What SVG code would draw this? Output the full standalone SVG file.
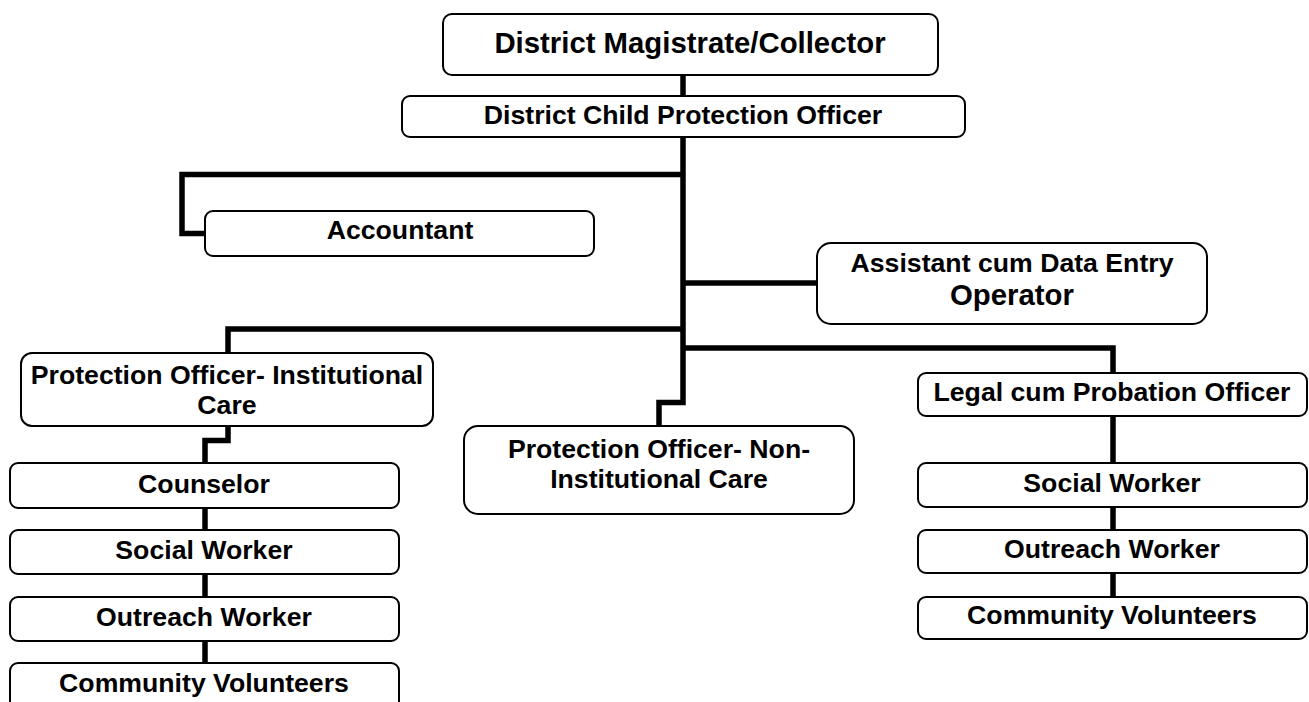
<svg xmlns="http://www.w3.org/2000/svg" width="1309" height="702" viewBox="0 0 1309 702">
<style>
.box{fill:#fff;stroke:#000;stroke-width:2}
.t{font-family:"Liberation Sans",Arial,sans-serif;font-weight:bold;font-size:26.67px;fill:#000;text-anchor:middle}
.big{font-size:29.33px}
.c{fill:none;stroke:#000;stroke-width:5.5;stroke-linejoin:miter;stroke-linecap:butt}
</style>
<rect width="1309" height="702" fill="#fff"/>
<g id="connectors">
<path class="c" d="M683,75 V96"/>
<path class="c" d="M683,137 V402.5 H659 V426"/>
<path class="c" d="M683,174.5 H182 V233.5 H205"/>
<path class="c" d="M683,283 H817"/>
<path class="c" d="M683,329 H228 V353"/>
<path class="c" d="M683,348 H1113 V373"/>
<path class="c" d="M228,426 V440.5 H205 V463"/>
<path class="c" d="M205,508 V530"/>
<path class="c" d="M205,574 V597"/>
<path class="c" d="M205,641 V663"/>
<path class="c" d="M1113,416 V463"/>
<path class="c" d="M1113,507 V530"/>
<path class="c" d="M1113,573 V597"/>
</g>
<g id="dm">
<rect class="box" x="443" y="14" width="495" height="61" rx="9"/>
<text class="t big" x="690" y="53">District Magistrate/Collector</text>
</g>
<g id="dcpo">
<rect class="box" x="402" y="96" width="563" height="41" rx="8"/>
<text class="t" x="683" y="124">District Child Protection Officer</text>
</g>
<g id="accountant">
<rect class="box" x="205" y="211" width="389" height="45" rx="8"/>
<text class="t" x="400" y="239">Accountant</text>
</g>
<g id="assistant">
<rect class="box" x="817" y="243" width="390" height="81" rx="14"/>
<text class="t" x="1012" y="272">Assistant cum Data Entry</text>
<text class="t big" x="1012" y="305">Operator</text>
</g>
<g id="po-ic">
<rect class="box" x="21" y="353" width="412" height="73" rx="11"/>
<text class="t" x="227" y="384">Protection Officer- Institutional</text>
<text class="t" x="227" y="414">Care</text>
</g>
<g id="po-nic">
<rect class="box" x="464" y="426" width="390" height="88" rx="14"/>
<text class="t" x="659" y="458">Protection Officer- Non-</text>
<text class="t" x="659" y="488">Institutional Care</text>
</g>
<g id="legal">
<rect class="box" x="918" y="373" width="389" height="43" rx="8"/>
<text class="t" x="1112" y="401">Legal cum Probation Officer</text>
</g>
<g id="counselor">
<rect class="box" x="10" y="463" width="389" height="45" rx="8"/>
<text class="t" x="204" y="493">Counselor</text>
</g>
<g id="social-worker-left">
<rect class="box" x="10" y="530" width="389" height="44" rx="8"/>
<text class="t" x="204" y="559">Social Worker</text>
</g>
<g id="outreach-left">
<rect class="box" x="10" y="597" width="389" height="44" rx="8"/>
<text class="t" x="204" y="626">Outreach Worker</text>
</g>
<g id="volunteers-left">
<rect class="box" x="10" y="663" width="389" height="50" rx="8"/>
<text class="t" x="204" y="692">Community Volunteers</text>
</g>
<g id="social-worker-right">
<rect class="box" x="918" y="463" width="389" height="44" rx="8"/>
<text class="t" x="1112" y="492">Social Worker</text>
</g>
<g id="outreach-right">
<rect class="box" x="918" y="530" width="389" height="43" rx="8"/>
<text class="t" x="1112" y="558">Outreach Worker</text>
</g>
<g id="volunteers-right">
<rect class="box" x="918" y="597" width="389" height="42" rx="8"/>
<text class="t" x="1112" y="624">Community Volunteers</text>
</g>
</svg>
